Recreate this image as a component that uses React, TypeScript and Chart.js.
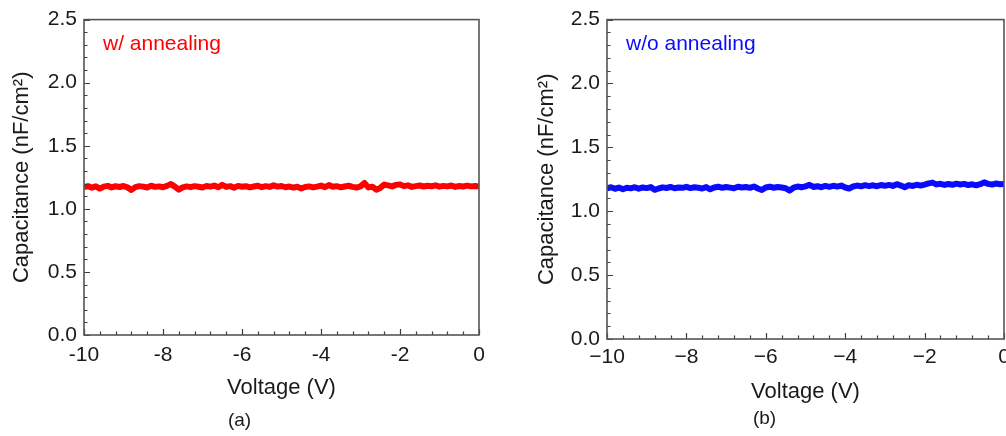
import React, { useEffect, useRef } from "react";
import { Chart, registerables } from "chart.js";

Chart.register(...registerables);

// Voltage sweep: -10 V to 0 V in 0.1 V steps
const VOLTAGE_START = -10;
const VOLTAGE_STEP = 0.1;

// (a) w/ annealing — capacitance (nF/cm²)
const capAnnealed: number[] = [
  1.172, 1.180, 1.168, 1.178, 1.160, 1.176, 1.182, 1.170, 1.179, 1.173,
  1.181, 1.170, 1.150, 1.172, 1.180, 1.176, 1.169, 1.183, 1.174, 1.178,
  1.171, 1.182, 1.196, 1.176, 1.152, 1.170, 1.178, 1.172, 1.180, 1.175,
  1.169, 1.181, 1.176, 1.184, 1.171, 1.190, 1.174, 1.180, 1.168, 1.182,
  1.175, 1.179, 1.170, 1.177, 1.183, 1.172, 1.180, 1.174, 1.186, 1.176,
  1.181, 1.171, 1.177, 1.168, 1.175, 1.162, 1.173, 1.178, 1.170, 1.176,
  1.184, 1.172, 1.188, 1.175, 1.180, 1.171, 1.177, 1.183, 1.174, 1.169,
  1.178, 1.205, 1.170, 1.176, 1.152, 1.166, 1.192, 1.186, 1.178, 1.190,
  1.194, 1.180, 1.186, 1.174, 1.180, 1.185, 1.177, 1.183, 1.179, 1.186,
  1.176, 1.182, 1.178, 1.185, 1.174, 1.181, 1.177, 1.184, 1.178, 1.181,
  1.176,
];

// (b) w/o annealing — capacitance (nF/cm²)
const capUnannealed: number[] = [
  1.180, 1.188, 1.176, 1.185, 1.172, 1.184, 1.179, 1.188, 1.177, 1.186,
  1.181, 1.189, 1.168, 1.178, 1.187, 1.182, 1.190, 1.180, 1.186, 1.183,
  1.191, 1.181, 1.188, 1.184, 1.178, 1.189, 1.172, 1.186, 1.192, 1.183,
  1.190, 1.185, 1.180, 1.192, 1.186, 1.190, 1.183, 1.194, 1.178, 1.166,
  1.186, 1.192, 1.184, 1.190, 1.186, 1.180, 1.162, 1.184, 1.193, 1.188,
  1.195, 1.207, 1.190, 1.196, 1.188, 1.198, 1.191, 1.199, 1.193, 1.201,
  1.186, 1.178, 1.194, 1.201, 1.195, 1.204, 1.197, 1.203, 1.196, 1.205,
  1.199, 1.206, 1.198, 1.212, 1.201, 1.188, 1.204, 1.198, 1.207, 1.201,
  1.209, 1.218, 1.224, 1.210, 1.215, 1.206, 1.213, 1.207, 1.216, 1.209,
  1.214, 1.205, 1.211, 1.203, 1.212, 1.226, 1.214, 1.209, 1.217, 1.211,
  1.214,
];

const X_MIN = -10;
const X_MAX = 0;
const X_MAJOR_STEP = 2;
const X_MINOR_STEP = 0.4;
const Y_MIN = 0;
const Y_MAX = 2.5;
const Y_MAJOR_STEP = 0.5;
const Y_MINOR_STEP = 0.1;

const FONT = "Arial, 'Liberation Sans', Helvetica, sans-serif";
const TEXT = "#1a1a1a";

interface PanelSpec {
  values: number[];
  color: string;
  label: string;
  caption: string;
  minus: string;
  padLeft: number;
  padTop: number;
  padRight: number;
  yWidth: number;
  xHeight: number;
  yTitlePad: number;
  xTitlePadBottom: number;
  xTickPad: number;
  captionPadBottom: number;
}

const frameTicksPlugin = {
  id: "frameTicks",
  afterDatasetsDraw(chart: any, _args: any, opts: any) {
    const { ctx, chartArea } = chart;
    const { left, right, top, bottom } = chartArea;
    const xs = chart.scales.x;
    const ys = chart.scales.y;
    ctx.save();
    // ticks (inward, bottom and left only)
    ctx.strokeStyle = "#3c3c3c";
    ctx.lineWidth = 1.2;
    ctx.beginPath();
    const nx = Math.round((X_MAX - X_MIN) / X_MINOR_STEP);
    for (let i = 0; i <= nx; i++) {
      const v = X_MIN + i * X_MINOR_STEP;
      const isMajor = Math.abs(v / X_MAJOR_STEP - Math.round(v / X_MAJOR_STEP)) < 1e-6;
      const px = Math.round(xs.getPixelForValue(v)) + 0.5;
      ctx.moveTo(px, bottom);
      ctx.lineTo(px, bottom - (isMajor ? 6 : 3.5));
    }
    const ny = Math.round((Y_MAX - Y_MIN) / Y_MINOR_STEP);
    for (let i = 0; i <= ny; i++) {
      const v = Y_MIN + i * Y_MINOR_STEP;
      const isMajor = Math.abs(v / Y_MAJOR_STEP - Math.round(v / Y_MAJOR_STEP)) < 1e-6;
      const py = Math.round(ys.getPixelForValue(v)) + 0.5;
      ctx.moveTo(left, py);
      ctx.lineTo(left + (isMajor ? 6 : 3.5), py);
    }
    ctx.stroke();
    // frame
    ctx.strokeStyle = "#555555";
    ctx.lineWidth = 1.6;
    ctx.strokeRect(left, top, right - left, bottom - top);
    // annotation
    ctx.fillStyle = opts.color;
    ctx.font = `21px ${FONT}`;
    ctx.textBaseline = "middle";
    ctx.textAlign = "left";
    ctx.fillText(opts.label, left + 19, top + 25);
    ctx.restore();
  },
};

function makeConfig(p: PanelSpec): any {
  const points = p.values.map((v, i) => ({
    x: +(VOLTAGE_START + i * VOLTAGE_STEP).toFixed(2),
    y: v,
  }));
  return {
    type: "line",
    data: {
      datasets: [
        {
          data: points,
          borderColor: p.color,
          backgroundColor: p.color,
          borderWidth: 6,
          borderJoinStyle: "round",
          borderCapStyle: "butt",
          pointRadius: 0,
          tension: 0,
          fill: false,
        },
      ],
    },
    plugins: [frameTicksPlugin],
    options: {
      animation: false,
      responsive: false,
      devicePixelRatio: 1,
      layout: {
        padding: { left: p.padLeft, top: p.padTop, right: p.padRight, bottom: 0 },
      },
      plugins: {
        legend: { display: false },
        tooltip: { enabled: false },
        title: {
          display: true,
          position: "bottom",
          text: p.caption,
          color: TEXT,
          font: { family: FONT, size: 19, weight: "normal", lineHeight: 1.2 },
          padding: { top: 0, bottom: p.captionPadBottom },
        },
        frameTicks: { color: p.color, label: p.label },
      },
      scales: {
        x: {
          type: "linear",
          min: X_MIN,
          max: X_MAX,
          grid: { display: false, drawTicks: false },
          border: { display: false },
          ticks: {
            stepSize: X_MAJOR_STEP,
            padding: p.xTickPad,
            color: TEXT,
            font: { family: FONT, size: 21, lineHeight: 1.2 },
            maxRotation: 0,
            callback: (v: number) =>
              v < 0 ? p.minus + String(Math.abs(v)) : String(v),
          },
          title: {
            display: true,
            text: "Voltage (V)",
            color: TEXT,
            font: { family: FONT, size: 22, lineHeight: 1.2 },
            padding: { top: 0, bottom: p.xTitlePadBottom },
          },
          afterFit: (scale: any) => {
            scale.height = p.xHeight;
          },
        },
        y: {
          type: "linear",
          min: Y_MIN,
          max: Y_MAX,
          grid: { display: false, drawTicks: false },
          border: { display: false },
          ticks: {
            stepSize: Y_MAJOR_STEP,
            padding: 7,
            color: TEXT,
            font: { family: FONT, size: 21, lineHeight: 1.2 },
            callback: (v: number) => v.toFixed(1),
          },
          title: {
            display: true,
            text: "Capacitance (nF/cm²)",
            color: TEXT,
            font: { family: FONT, size: 22, lineHeight: 1.2 },
            padding: { top: p.yTitlePad, bottom: 0 },
          },
          afterFit: (scale: any) => {
            scale.width = p.yWidth;
          },
        },
      },
    },
  };
}

const panelA: PanelSpec = {
  values: capAnnealed,
  color: "#ff0000",
  label: "w/ annealing",
  caption: "(a)",
  minus: "-",
  padLeft: 0,
  padTop: 18,
  padRight: 21,
  yWidth: 84,
  xHeight: 74.2,
  yTitlePad: 9,
  xTitlePadBottom: 8,
  xTickPad: 7.4,
  captionPadBottom: 4,
};

const panelB: PanelSpec = {
  values: capUnannealed,
  color: "#0a0aff",
  label: "w/o annealing",
  caption: "(b)",
  minus: "\u2212",
  padLeft: 25,
  padTop: 19,
  padRight: 16,
  yWidth: 82,
  xHeight: 68.2,
  yTitlePad: 9,
  xTitlePadBottom: 2,
  xTickPad: 5.4,
  captionPadBottom: 6,
};

export default function App() {
  const refA = useRef<HTMLCanvasElement | null>(null);
  const refB = useRef<HTMLCanvasElement | null>(null);

  useEffect(() => {
    Chart.defaults.font.family = FONT;
    const a = new Chart(refA.current as HTMLCanvasElement, makeConfig(panelA));
    const b = new Chart(refB.current as HTMLCanvasElement, makeConfig(panelB));
    return () => {
      a.destroy();
      b.destroy();
    };
  }, []);

  return (
    <div
      style={{
        position: "absolute",
        left: 0,
        top: 0,
        width: 1006,
        height: 436,
        overflow: "hidden",
        background: "#ffffff",
      }}
    >
      <canvas
        ref={refA}
        width={500}
        height={436}
        style={{ position: "absolute", left: 0, top: 0, width: 500, height: 436 }}
      />
      <canvas
        ref={refB}
        width={520}
        height={436}
        style={{ position: "absolute", left: 500, top: 0, width: 520, height: 436 }}
      />
    </div>
  );
}
